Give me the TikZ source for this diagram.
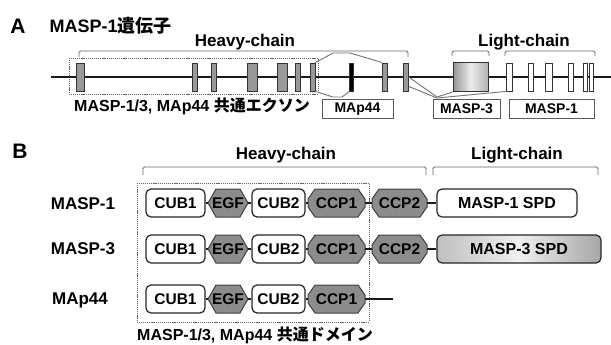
\documentclass[tikz,border=0pt]{standalone}
\usepackage{fontspec}
\setmainfont{Liberation Sans}
\newfontfamily\jp{Noto Sans CJK JP}
\usetikzlibrary{calc}
\definecolor{exgray}{gray}{0.6}
\definecolor{domgray}{gray}{0.55}
\definecolor{brclr}{gray}{0.4}
\tikzset{
  fs/.style={font=\fontsize{#1}{#1}\selectfont\bfseries},
  exon/.style={draw=black!80, line width=0.9pt, fill=exgray, inner sep=0pt, minimum height=28},
  wexon/.style={exon, fill=white},
  mainline/.style={line width=1.8pt, black!90},
  splice/.style={draw=black!55, line width=0.9pt},
  bracket/.style={draw=brclr, line width=0.9pt, rounded corners=1.5pt},
  dashbox/.style={draw=black!60, line width=0.8pt, dash pattern=on 1.2pt off 0.9pt},
  lblbox/.style={draw=black!65, line width=1pt, fill=white, inner sep=0pt, minimum height=19, fs=14},
  graydom/.style={draw=black!75, line width=1pt, fill=domgray},
  domtxt/.style={inner sep=0pt, minimum height=28, fs=15.5},
  cubbox/.style={domtxt, draw=black!85, line width=1.2pt, rounded corners=5pt, fill=white},
  link/.style={line width=1.6pt, black!90},
}
\newcommand\hexdom[5]{%
  \draw[graydom] ({#2-#4/2},#3) -- ({#2-#4/2+8},{#3-14}) -- ({#2+#4/2-8},{#3-14}) -- ({#2+#4/2},#3) -- ({#2+#4/2-8},{#3+14}) -- ({#2-#4/2+8},{#3+14}) -- cycle;
  \node[domtxt, minimum width=#4] (#1) at (#2,#3) {#5};}
\newcommand\octdom[5]{%
  \draw[graydom] ({#2-#4/2},{#3-4}) -- ({#2-#4/2+7},{#3-14}) -- ({#2+#4/2-7},{#3-14}) -- ({#2+#4/2},{#3-4}) -- ({#2+#4/2},{#3+4}) -- ({#2+#4/2-7},{#3+14}) -- ({#2-#4/2+7},{#3+14}) -- ({#2-#4/2},{#3+4}) -- cycle;
  \node[domtxt, minimum width=#4] (#1) at (#2,#3) {#5};}
\begin{document}
\begin{tikzpicture}[x=1pt, y=-1pt]
\useasboundingbox (0,0) rectangle (611,345);
% ---------------- Part A ----------------
\node[fs=21] (labA) at (18,26) {A};
\node[fs=18, anchor=west] (titleA) at (46,26) {MASP-1{\jp 遺伝子}};
\node[fs=17] (heavyA) at (245,42) {Heavy-chain};
\node[fs=17] (lightA) at (524,42) {Light-chain};
\draw[bracket] (79,57) -- (79,51) -- (408,51) -- (408,57);
\draw[bracket] (452,56) -- (452,51) -- (489,51) -- (489,56);
\draw[bracket] (505,56) -- (505,51) -- (595,51) -- (595,56);
\draw[dashbox] (69,58) rectangle (318,94);
\coordinate (lstart) at (51,77);
\coordinate (lend) at (611,77);
\draw[mainline] (lstart) -- (lend);
\node[exon, minimum width=8] (ex1) at (80,77) {};
\node[exon, minimum width=5] (ex2) at (194.5,77) {};
\node[exon, minimum width=5] (ex3) at (213.5,77) {};
\node[exon, minimum width=10] (ex4) at (252,77) {};
\node[exon, minimum width=10] (ex5) at (282,77) {};
\node[exon, minimum width=5] (ex6) at (297.5,77) {};
\node[exon, minimum width=5] (ex7) at (312.5,77) {};
\node[exon, minimum width=3.5, fill=black] (exm) at (351.5,77) {};
\node[exon, minimum width=4.5] (ex8) at (385,77) {};
\node[exon, minimum width=4.5] (ex9) at (406,77) {};
\node[exon, minimum width=35, minimum height=29, left color=gray!85, right color=gray!60, middle color=gray!15] (ex3m) at (470.5,77) {};
\node[wexon, minimum width=6] (w1) at (509,77) {};
\node[wexon, minimum width=5] (w2) at (530.5,77) {};
\node[wexon, minimum width=7] (w3) at (548.5,77) {};
\node[wexon, minimum width=5] (w4) at (570.5,77) {};
\node[wexon, minimum width=4] (w5) at (585,77) {};
\node[wexon, minimum width=4] (w6) at (591,77) {};
% splicing
\draw[splice] (ex7.north east) -- (333,53) -- (350,53) -- (ex8.north west);
\draw[splice] (ex7.south east) -- (333,97) -- (342,97) -- (exm.south west);
\draw[splice] (ex9.east) -- (437,97) -- (ex3m.south west);
\draw[splice] ($(ex9.south east)+(0,-5)$) -- (437,98) -- (w1.south west);
% labels
\node[fs=16] (capA) at (192,106) {MASP-1/3, MAp44 {\jp 共通エクソン}};
\node[lblbox, minimum width=71] (bMAp) at (357.5,109) {MAp44};
\node[lblbox, minimum width=67] (bM3) at (466.5,109) {MASP-3};
\node[lblbox, minimum width=85] (bM1) at (551.5,109) {MASP-1};
% ---------------- Part B ----------------
\node[fs=21] (labB) at (20,151) {B};
\node[fs=17] (heavyB) at (286,155) {Heavy-chain};
\node[fs=17] (lightB) at (517,155) {Light-chain};
\draw[bracket] (143,175) -- (143,167) -- (426,167) -- (426,175);
\draw[bracket] (433,175) -- (433,167) -- (598,167) -- (598,175);
\draw[dashbox] (137,183) rectangle (369,322);
\node[fs=17] (rM1) at (83,204) {MASP-1};
\node[fs=17] (rM3) at (83,249) {MASP-3};
\node[fs=17] (rMA) at (80,300) {MAp44};
% row 1
\node[cubbox, minimum width=59] (cub1a) at (175.5,203) {CUB1};
\hexdom{egfa}{228}{203}{40}{EGF}
\node[cubbox, minimum width=53] (cub2a) at (278.5,203) {CUB2};
\octdom{ccp1a}{336.5}{203}{57}{CCP1}
\octdom{ccp2a}{399.5}{203}{55}{CCP2}
\node[cubbox, minimum width=140, fs=16] (spd1) at (507,203) {MASP-1 SPD};
\draw[link] (cub1a.east) -- (egfa.west);
\draw[link] (egfa.east) -- (cub2a.west);
\draw[link] (cub2a.east) -- (ccp1a.west);
\draw[link] (ccp1a.east) -- (ccp2a.west);
\draw[link] (ccp2a.east) -- (spd1.west);
% row 2
\node[cubbox, minimum width=59] (cub1b) at (175.5,249) {CUB1};
\hexdom{egfb}{228}{249}{40}{EGF}
\node[cubbox, minimum width=53] (cub2b) at (278.5,249) {CUB2};
\octdom{ccp1b}{336.5}{249}{57}{CCP1}
\octdom{ccp2b}{399.5}{249}{55}{CCP2}
\node[cubbox, minimum width=164, fs=16, left color=gray!50, right color=gray!70, middle color=gray!12] (spd3) at (519,249) {MASP-3 SPD};
\draw[link] (cub1b.east) -- (egfb.west);
\draw[link] (egfb.east) -- (cub2b.west);
\draw[link] (cub2b.east) -- (ccp1b.west);
\draw[link] (ccp1b.east) -- (ccp2b.west);
\draw[link] (ccp2b.east) -- (spd3.west);
% row 3
\node[cubbox, minimum width=59] (cub1c) at (175.5,299) {CUB1};
\hexdom{egfc}{228}{299}{40}{EGF}
\node[cubbox, minimum width=53] (cub2c) at (278.5,299) {CUB2};
\octdom{ccp1c}{336.5}{299}{57}{CCP1}
\coordinate (endc) at (393,299);
\draw[link] (cub1c.east) -- (egfc.west);
\draw[link] (egfc.east) -- (cub2c.west);
\draw[link] (cub2c.east) -- (ccp1c.west);
\draw[link] (ccp1c.east) -- (endc);
\node[fs=16] (capB) at (255,335) {MASP-1/3, MAp44 {\jp 共通ドメイン}};
\end{tikzpicture}
\end{document}
